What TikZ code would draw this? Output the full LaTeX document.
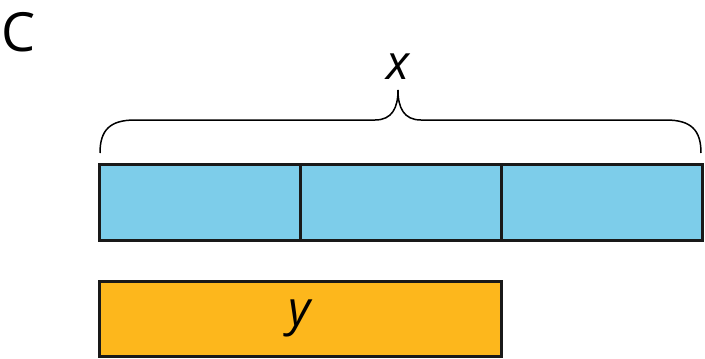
\documentclass[tikz,border=0pt]{standalone}
\usepackage{fontspec}
\setmainfont{Open Sans}
\definecolor{barblue}{HTML}{7DCDEA}
\definecolor{barorange}{HTML}{FDB71C}
\begin{document}
\begin{tikzpicture}[x=1pt,y=-1pt,
  seg/.style={draw=black!90,line width=3pt,fill=barblue,minimum width=201pt,minimum height=76pt,inner sep=0pt,outer sep=0pt},
  ybar/.style={draw=black!90,line width=3pt,fill=barorange,minimum width=402pt,minimum height=75pt,inner sep=0pt,outer sep=0pt},
  lbl/.style={inner sep=0pt,font=\fontsize{48}{48}\selectfont\itshape}]
\useasboundingbox (0,0) rectangle (705,359);
\node[inner sep=0pt,font=\fontsize{54}{54}\selectfont] (C) at (19,32) {C};
\node[seg] (b1) at (199.5,202) {};
\node[seg] (b2) at (400.5,202) {};
\node[seg] (b3) at (601.5,202) {};
\node[ybar] (yb) at (300,318.5) {};
\node[lbl] (yl) at (yb.center) {y};
\coordinate (bl) at (100,153);
\coordinate (br) at (701,153);
\coordinate (tip) at (398,90);
\draw[line width=1.5pt] (bl) .. controls (100,130) and (110,120) .. (135,120) -- (375,120) .. controls (392,120) and (398,108) .. (tip)
  .. controls (398,108) and (404,120) .. (421,120) -- (666,120) .. controls (691,120) and (701,130) .. (br);
\node[lbl,anchor=south] (xl) at (398,80) {x};
\end{tikzpicture}
\end{document}
